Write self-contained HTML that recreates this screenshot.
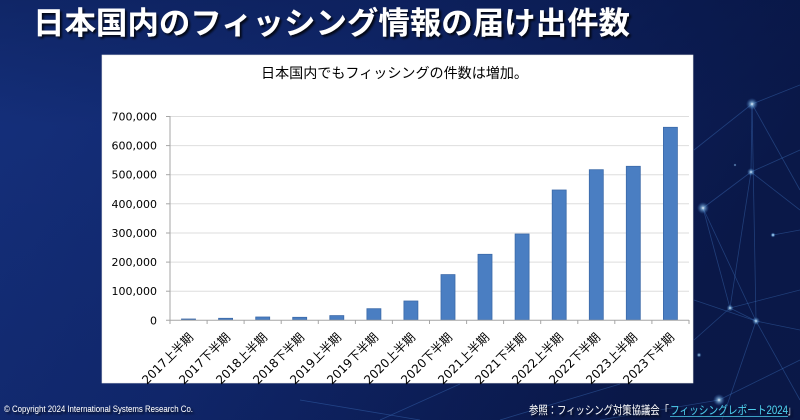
<!DOCTYPE html>
<html><head><meta charset="utf-8"><style>
html,body{margin:0;padding:0;width:800px;height:420px;overflow:hidden;background:#10266a}
svg{display:block}
</style></head><body>
<svg width="800" height="420" viewBox="0 0 800 420" xmlns="http://www.w3.org/2000/svg">
<defs>
<linearGradient id="bg" x1="0" y1="0" x2="1" y2="0.3">
<stop offset="0" stop-color="#15307c"/>
<stop offset="0.45" stop-color="#11286e"/>
<stop offset="0.8" stop-color="#0c1d55"/>
<stop offset="1" stop-color="#0a1848"/>
</linearGradient>
<linearGradient id="bgv" x1="0" y1="0" x2="0" y2="1">
<stop offset="0" stop-color="#061440" stop-opacity="0.35"/>
<stop offset="0.3" stop-color="#061440" stop-opacity="0"/>
<stop offset="1" stop-color="#061440" stop-opacity="0.1"/>
</linearGradient>
<radialGradient id="glow">
<stop offset="0" stop-color="#ffffff" stop-opacity="0.95"/>
<stop offset="0.3" stop-color="#9fd8ff" stop-opacity="0.6"/>
<stop offset="1" stop-color="#3a7fd0" stop-opacity="0"/>
</radialGradient>
<filter id="sh" x="-5%" y="-20%" width="110%" height="140%">
<feDropShadow dx="2" dy="2" stdDeviation="1" flood-color="#000" flood-opacity="0.8"/>
</filter>
</defs>
<rect width="800" height="420" fill="url(#bg)"/>
<rect width="800" height="420" fill="url(#bgv)"/>

<!-- network lines -->
<g stroke="#4a86d8" stroke-opacity="0.35" stroke-width="0.8" fill="none">
<line x1="752" y1="104" x2="800" y2="85"/>
<line x1="752" y1="104" x2="800" y2="190"/>
<line x1="752" y1="104" x2="751" y2="172"/>
<line x1="752" y1="104" x2="756" y2="321"/>
<line x1="751" y1="172" x2="703" y2="208"/>
<line x1="751" y1="172" x2="800" y2="150"/>
<line x1="751" y1="172" x2="730" y2="308"/>
<line x1="751" y1="172" x2="800" y2="210"/>
<line x1="703" y1="208" x2="730" y2="308"/>
<line x1="703" y1="208" x2="756" y2="321"/>
<line x1="730" y1="308" x2="800" y2="290"/>
<line x1="730" y1="308" x2="756" y2="321"/>
<line x1="756" y1="321" x2="800" y2="400"/>
<line x1="756" y1="321" x2="722" y2="420"/>
<line x1="756" y1="321" x2="800" y2="330"/>
<line x1="730" y1="308" x2="694" y2="340"/>
<line x1="773" y1="235" x2="800" y2="230"/>
<line x1="756" y1="321" x2="694" y2="300"/>
<line x1="719" y1="400" x2="600" y2="420"/>
<line x1="719" y1="400" x2="800" y2="360"/>
<line x1="500" y1="420" x2="620" y2="384"/>
<line x1="380" y1="420" x2="460" y2="384"/>
<line x1="300" y1="400" x2="420" y2="420"/>
<line x1="694" y1="150" x2="752" y2="104"/>
</g>
<g>
<circle cx="752" cy="104" r="6" fill="url(#glow)"/>
<circle cx="751" cy="172" r="4" fill="url(#glow)"/>
<circle cx="703" cy="208" r="6" fill="url(#glow)"/>
<circle cx="730" cy="308" r="3.5" fill="url(#glow)"/>
<circle cx="756" cy="321" r="4" fill="url(#glow)"/>
<circle cx="773" cy="235" r="2.5" fill="url(#glow)"/>
<circle cx="699" cy="355" r="2.5" fill="url(#glow)"/>
<circle cx="719" cy="400" r="6" fill="url(#glow)"/>
<circle cx="735" cy="165" r="1.5" fill="url(#glow)"/>
<circle cx="773" cy="235" r="2" fill="url(#glow)"/>
</g>

<!-- title -->
<text x="33" y="34" font-family="'Liberation Sans','Noto Sans CJK JP',sans-serif" font-weight="700" font-size="31" fill="#ffffff" filter="url(#sh)" textLength="597" lengthAdjust="spacingAndGlyphs">日本国内のフィッシング情報の届け出件数</text>

<!-- chart box -->
<rect x="102" y="55" width="591" height="328" fill="#ffffff" stroke="#e8e8e8" stroke-width="0.6"/>
<text x="261" y="78" font-family="'Liberation Sans','Noto Sans CJK JP',sans-serif" font-size="14" fill="#000" textLength="267" lengthAdjust="spacingAndGlyphs">日本国内でもフィッシングの件数は増加。</text>

<!-- gridlines -->
<g stroke="#dedede" stroke-width="1">
<line x1="170" y1="116.5" x2="689" y2="116.5"/>
<line x1="170" y1="145.6" x2="689" y2="145.6"/>
<line x1="170" y1="174.7" x2="689" y2="174.7"/>
<line x1="170" y1="203.8" x2="689" y2="203.8"/>
<line x1="170" y1="233" x2="689" y2="233"/>
<line x1="170" y1="262.1" x2="689" y2="262.1"/>
<line x1="170" y1="291.2" x2="689" y2="291.2"/>
</g>

<!-- y labels -->
<g font-family="'DejaVu Sans','Liberation Sans',sans-serif" font-size="11" fill="#000" text-anchor="end">
<text x="157" y="120.5">700,000</text>
<text x="157" y="149.6">600,000</text>
<text x="157" y="178.7">500,000</text>
<text x="157" y="207.8">400,000</text>
<text x="157" y="237">300,000</text>
<text x="157" y="266.1">200,000</text>
<text x="157" y="295.2">100,000</text>
<text x="157" y="324.3">0</text>
</g>

<!-- bars -->
<g fill="#4a7ec2" stroke="#3b69a8" stroke-width="0.8">
<rect x="181.5" y="319" width="14" height="1"/>
<rect x="218.6" y="318.3" width="14" height="1.7"/>
<rect x="255.7" y="317" width="14" height="3"/>
<rect x="292.7" y="317.3" width="14" height="2.7"/>
<rect x="329.8" y="315.6" width="14" height="4.4"/>
<rect x="366.9" y="308.7" width="14" height="11.3"/>
<rect x="403.9" y="301" width="14" height="19"/>
<rect x="441" y="274.6" width="14" height="45.4"/>
<rect x="478" y="254.3" width="14" height="65.7"/>
<rect x="515.1" y="234" width="14" height="86"/>
<rect x="552.2" y="190" width="14" height="130"/>
<rect x="589.3" y="169.7" width="14" height="150.3"/>
<rect x="626.3" y="166.3" width="14" height="153.7"/>
<rect x="663.4" y="127.3" width="14" height="192.7"/>
</g>

<!-- axes -->
<g stroke="#a6a6a6" stroke-width="1">
<line x1="170" y1="116" x2="170" y2="320.5"/>
<line x1="166" y1="116.5" x2="170" y2="116.5"/>
<line x1="166" y1="145.6" x2="170" y2="145.6"/>
<line x1="166" y1="174.7" x2="170" y2="174.7"/>
<line x1="166" y1="203.8" x2="170" y2="203.8"/>
<line x1="166" y1="233" x2="170" y2="233"/>
<line x1="166" y1="262.1" x2="170" y2="262.1"/>
<line x1="166" y1="291.2" x2="170" y2="291.2"/>
<line x1="166" y1="320.3" x2="689" y2="320.3"/>
<line x1="170" y1="320" x2="170" y2="324"/>
<line x1="207.1" y1="320" x2="207.1" y2="324"/>
<line x1="244.1" y1="320" x2="244.1" y2="324"/>
<line x1="281.2" y1="320" x2="281.2" y2="324"/>
<line x1="318.3" y1="320" x2="318.3" y2="324"/>
<line x1="355.4" y1="320" x2="355.4" y2="324"/>
<line x1="392.4" y1="320" x2="392.4" y2="324"/>
<line x1="429.5" y1="320" x2="429.5" y2="324"/>
<line x1="466.6" y1="320" x2="466.6" y2="324"/>
<line x1="503.6" y1="320" x2="503.6" y2="324"/>
<line x1="540.7" y1="320" x2="540.7" y2="324"/>
<line x1="577.8" y1="320" x2="577.8" y2="324"/>
<line x1="614.8" y1="320" x2="614.8" y2="324"/>
<line x1="651.9" y1="320" x2="651.9" y2="324"/>
<line x1="689" y1="320" x2="689" y2="324"/>
</g>

<!-- x labels -->
<g font-family="'DejaVu Sans','Noto Sans CJK JP',sans-serif" font-size="12" fill="#000" text-anchor="end">
<text transform="translate(194,338) rotate(-45)">2017上半期</text>
<text transform="translate(231,338) rotate(-45)">2017下半期</text>
<text transform="translate(268,338) rotate(-45)">2018上半期</text>
<text transform="translate(305,338) rotate(-45)">2018下半期</text>
<text transform="translate(342,338) rotate(-45)">2019上半期</text>
<text transform="translate(379,338) rotate(-45)">2019下半期</text>
<text transform="translate(416,338) rotate(-45)">2020上半期</text>
<text transform="translate(453,338) rotate(-45)">2020下半期</text>
<text transform="translate(490,338) rotate(-45)">2021上半期</text>
<text transform="translate(527,338) rotate(-45)">2021下半期</text>
<text transform="translate(564,338) rotate(-45)">2022上半期</text>
<text transform="translate(601,338) rotate(-45)">2022下半期</text>
<text transform="translate(638,338) rotate(-45)">2023上半期</text>
<text transform="translate(675,338) rotate(-45)">2023下半期</text>
</g>

<!-- footer -->
<text x="4" y="412" font-family="'Liberation Sans',sans-serif" font-size="9" fill="#ffffff" filter="url(#sh)" textLength="189" lengthAdjust="spacingAndGlyphs">© Copyright 2024 International Systems Research Co.</text>
<g font-family="'Liberation Sans','Noto Sans CJK JP',sans-serif" font-size="11.5" filter="url(#sh)">
<text x="529" y="414" fill="#ffffff" textLength="140" lengthAdjust="spacingAndGlyphs">参照：フィッシング対策協議会「</text>
<text x="670" y="414" fill="#4fd0ee" textLength="118" lengthAdjust="spacingAndGlyphs">フィッシングレポート2024</text>
<text x="788" y="414" fill="#ffffff" textLength="6" lengthAdjust="spacingAndGlyphs">」</text>
</g>
<line x1="670" y1="416.5" x2="788" y2="416.5" stroke="#4fd0ee" stroke-width="0.8"/>
</svg>
</body></html>
